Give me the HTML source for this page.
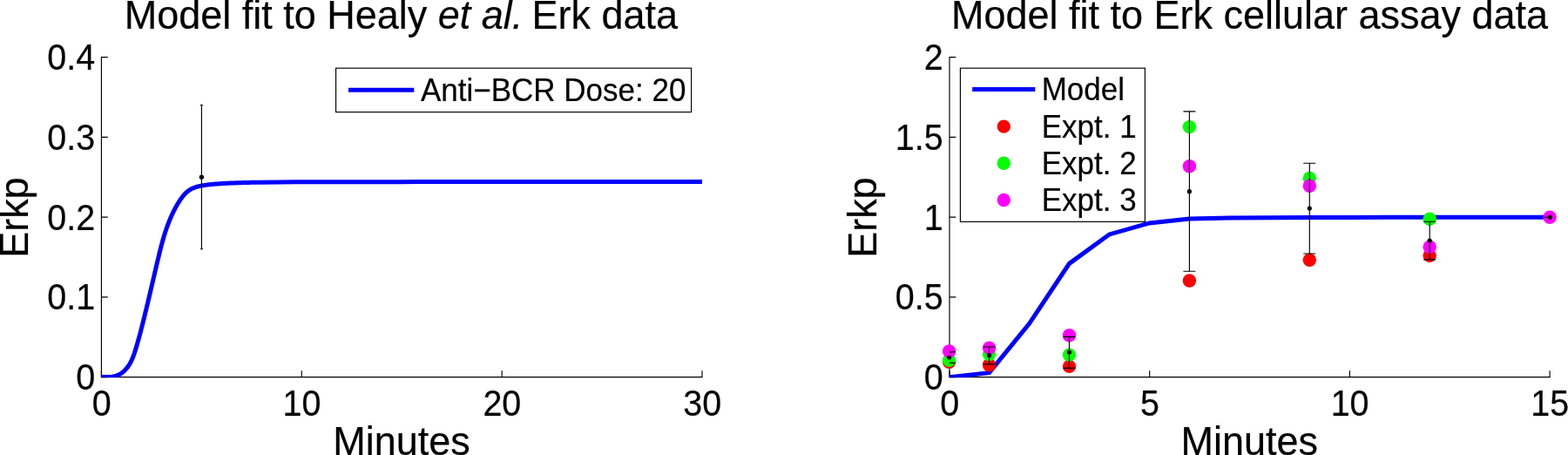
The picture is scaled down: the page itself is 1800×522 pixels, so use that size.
<!DOCTYPE html>
<html lang="en">
<head>
<meta charset="utf-8">
<title>Model fit to Erk data</title>
<style>
html,body{margin:0;padding:0;background:#fff;}
body{width:1800px;height:522px;overflow:hidden;}
svg{display:block;}
svg text{font-family:"Liberation Sans", sans-serif;fill:#000;stroke:#000;stroke-width:0.2px;stroke-linejoin:round;}
</style>
</head>
<body>
<svg width="1800" height="522" viewBox="0 0 1800 522">
<rect width="1800" height="522" fill="#fff"/>
<path d="M116.43 65.57V432.58H806" fill="none" stroke="#000" stroke-width="1.15" stroke-linecap="square"/>
<path d="M116.43 432.58v-7.3M346.29 432.58v-7.3M576.14 432.58v-7.3M806 432.58v-7.3M116.43 432.58h7.3M116.43 340.83h7.3M116.43 249.07h7.3M116.43 157.32h7.3M116.43 65.57h7.3" fill="none" stroke="#000" stroke-width="1.15"/>
<text transform="translate(116.63 477.18) scale(1 1.065)" font-size="39.5" text-anchor="middle">0</text>
<text transform="translate(346.49 477.18) scale(1 1.065)" font-size="39.5" text-anchor="middle">10</text>
<text transform="translate(576.34 477.18) scale(1 1.065)" font-size="39.5" text-anchor="middle">20</text>
<text transform="translate(806.2 477.18) scale(1 1.065)" font-size="39.5" text-anchor="middle">30</text>
<text transform="translate(109.13 447.08) scale(1 1.065)" font-size="39.5" text-anchor="end">0</text>
<text transform="translate(109.13 355.33) scale(1 1.065)" font-size="39.5" text-anchor="end">0.1</text>
<text transform="translate(109.13 263.57) scale(1 1.065)" font-size="39.5" text-anchor="end">0.2</text>
<text transform="translate(109.13 171.82) scale(1 1.065)" font-size="39.5" text-anchor="end">0.3</text>
<text transform="translate(109.13 80.07) scale(1 1.065)" font-size="39.5" text-anchor="end">0.4</text>
<clipPath id="cl"><rect x="116" y="65" width="691" height="368"/></clipPath>
<path d="M116.45 432.37L118.82 432.5L121.25 432.58L123.7 432.58L126.16 432.49L128.6 432.24L130.98 431.82L133.29 431.21L135.5 430.37L137.59 429.31L139.57 428.05L141.43 426.61L143.17 425.01L144.79 423.28L146.28 421.44L147.66 419.5L148.91 417.48L150.06 415.39L151.12 413.24L152.09 411.04L152.99 408.79L153.82 406.51L154.61 404.2L155.35 401.88L156.07 399.55L156.76 397.22L157.44 394.9L158.1 392.58L158.76 390.27L159.4 387.95L160.02 385.64L160.64 383.33L161.25 381.02L161.86 378.71L162.45 376.4L163.05 374.09L163.63 371.78L164.22 369.47L164.8 367.15L165.37 364.84L165.95 362.52L166.52 360.2L167.08 357.88L167.65 355.56L168.21 353.24L168.77 350.91L169.32 348.59L169.88 346.26L170.43 343.94L170.98 341.61L171.53 339.28L172.08 336.95L172.62 334.62L173.17 332.29L173.71 329.96L174.26 327.63L174.8 325.29L175.35 322.96L175.89 320.62L176.44 318.29L176.98 315.95L177.53 313.61L178.08 311.27L178.62 308.94L179.17 306.6L179.72 304.26L180.27 301.92L180.83 299.58L181.39 297.23L181.95 294.89L182.51 292.55L183.08 290.21L183.66 287.88L184.25 285.55L184.85 283.22L185.47 280.89L186.09 278.57L186.73 276.26L187.39 273.95L188.07 271.65L188.77 269.36L189.48 267.07L190.23 264.8L190.99 262.53L191.78 260.28L192.6 258.03L193.44 255.8L194.31 253.58L195.22 251.38L196.16 249.18L197.13 247L198.14 244.84L199.18 242.7L200.27 240.57L201.39 238.45L202.55 236.36L203.76 234.28L205.01 232.22L206.31 230.19L207.66 228.18L209.07 226.22L210.56 224.34L212.13 222.55L213.81 220.89L215.6 219.37L217.52 218.01L219.56 216.83L221.71 215.82L223.94 214.96L226.24 214.24L228.58 213.63L230.96 213.12L233.37 212.7L235.78 212.35L238.2 212.04L240.6 211.76L243 211.51L245.39 211.29L247.77 211.09L250.15 210.91L252.52 210.75L254.9 210.6L257.28 210.46L259.66 210.34L262.05 210.22L264.44 210.1L266.83 210L269.23 209.9L271.63 209.81L274.03 209.72L276.43 209.65L278.83 209.57L281.24 209.51L283.64 209.44L286.03 209.39L288.43 209.34L290.83 209.29L293.22 209.25L295.6 209.21L297.98 209.17L320 208.92L340 208.81L360 208.74L380 208.7L400 208.67L420 208.65L440 208.64L460 208.63L480 208.61L500 208.61L520 208.6L540 208.59L560 208.58L580 208.58L600 208.57L620 208.57L640 208.56L660 208.56L680 208.55L700 208.55L720 208.54L740 208.54L760 208.54L780 208.53L800 208.53L806 208.53" fill="none" stroke="#00f" stroke-width="5" stroke-linejoin="round" clip-path="url(#cl)"/>
<path d="M231.42 120.62V285.78M229.92 120.62h3M229.92 285.78h3" fill="none" stroke="#000" stroke-width="1.15"/>
<circle cx="231.42" cy="203.2" r="2.6" fill="#000"/>
<rect x="385.58" y="78.2" width="408" height="50.38" fill="#fff" stroke="#000" stroke-width="1.15"/>
<path d="M400 103.2H475.3" stroke="#00f" stroke-width="5" fill="none"/>
<text transform="translate(483 116.1) scale(1 1.035)" font-size="35">Anti−BCR Dose: 20</text>
<text transform="translate(460.4 32.8) scale(1 1.02)" font-size="45" text-anchor="middle">Model fit to Healy <tspan font-style="italic">et al.</tspan><tspan dx="-2.2"> Erk data</tspan></text>
<text transform="translate(461 521.7) scale(1 1.02)" font-size="45" text-anchor="middle">Minutes</text>
<text transform="translate(32.2 249.6) rotate(-90) scale(1 1.02)" font-size="45" text-anchor="middle">Erkp</text>
<path d="M1090 65.57V432.58H1779.1" fill="none" stroke="#000" stroke-width="1.15" stroke-linecap="square"/>
<path d="M1090 432.58v-7.3M1319.7 432.58v-7.3M1549.4 432.58v-7.3M1779.1 432.58v-7.3M1090 432.58h7.3M1090 340.83h7.3M1090 249.07h7.3M1090 157.32h7.3M1090 65.57h7.3" fill="none" stroke="#000" stroke-width="1.15"/>
<text transform="translate(1090.2 477.18) scale(1 1.065)" font-size="39.5" text-anchor="middle">0</text>
<text transform="translate(1319.9 477.18) scale(1 1.065)" font-size="39.5" text-anchor="middle">5</text>
<text transform="translate(1549.6 477.18) scale(1 1.065)" font-size="39.5" text-anchor="middle">10</text>
<text transform="translate(1779.3 477.18) scale(1 1.065)" font-size="39.5" text-anchor="middle">15</text>
<text transform="translate(1082.7 447.08) scale(1 1.065)" font-size="39.5" text-anchor="end">0</text>
<text transform="translate(1082.7 355.33) scale(1 1.065)" font-size="39.5" text-anchor="end">0.5</text>
<text transform="translate(1082.7 263.57) scale(1 1.065)" font-size="39.5" text-anchor="end">1</text>
<text transform="translate(1082.7 171.82) scale(1 1.065)" font-size="39.5" text-anchor="end">1.5</text>
<text transform="translate(1082.7 80.07) scale(1 1.065)" font-size="39.5" text-anchor="end">2</text>
<clipPath id="cr"><rect x="1090" y="65" width="690" height="368"/></clipPath>
<path d="M1089.6 432.83 L1135.57 427.69 L1181.53 371.36 L1227.5 302.36 L1273.47 268.96 L1319.43 255.93 L1365.4 251.07 L1411.37 249.97 L1457.33 249.69 L1503.3 249.51 L1549.27 249.42 L1595.23 249.32 L1641.2 249.32 L1687.17 249.32 L1733.13 249.32 L1779.1 249.32" fill="none" stroke="#00f" stroke-width="5" stroke-linejoin="miter" clip-path="url(#cr)"/>
<circle cx="1089.6" cy="415.3" r="7.7" fill="#f00"/>
<circle cx="1135.57" cy="418.8" r="7.7" fill="#f00"/>
<circle cx="1227.5" cy="420.4" r="7.7" fill="#f00"/>
<circle cx="1365.4" cy="322" r="7.7" fill="#f00"/>
<circle cx="1503.3" cy="298.3" r="7.7" fill="#f00"/>
<circle cx="1641.2" cy="293.3" r="7.7" fill="#f00"/>
<circle cx="1089.6" cy="413.3" r="7.7" fill="#0f0"/>
<circle cx="1135.57" cy="406.5" r="7.7" fill="#0f0"/>
<circle cx="1227.5" cy="407.1" r="7.7" fill="#0f0"/>
<circle cx="1365.4" cy="145.6" r="7.7" fill="#0f0"/>
<circle cx="1503.3" cy="204.5" r="7.7" fill="#0f0"/>
<circle cx="1641.2" cy="251.2" r="7.7" fill="#0f0"/>
<circle cx="1089.6" cy="403" r="7.7" fill="#f0f"/>
<circle cx="1135.57" cy="399.1" r="7.7" fill="#f0f"/>
<circle cx="1227.5" cy="384.7" r="7.7" fill="#f0f"/>
<circle cx="1365.4" cy="190.8" r="7.7" fill="#f0f"/>
<circle cx="1503.3" cy="213.3" r="7.7" fill="#f0f"/>
<circle cx="1641.2" cy="283.3" r="7.7" fill="#f0f"/>
<circle cx="1779.1" cy="249.2" r="7.7" fill="#f0f"/>
<path d="M1089.6 403.9V416.4M1082.6 403.9h14M1082.6 416.4h14M1135.57 398V417.8M1128.57 398h14M1128.57 417.8h14M1227.5 386.4V422.3M1220.5 386.4h14M1220.5 422.3h14M1365.4 127.9V311.2M1358.4 127.9h14M1358.4 311.2h14M1503.3 187.2V291M1496.3 187.2h14M1496.3 291h14M1641.2 254.2V297.9M1634.2 254.2h14M1634.2 297.9h14M1779.1 249.2V249.2M1772.1 249.2h14M1772.1 249.2h14" fill="none" stroke="#000" stroke-width="1.15" clip-path="url(#cr)"/>
<circle cx="1089.6" cy="410" r="2.6" fill="#000"/>
<circle cx="1135.57" cy="407.7" r="2.6" fill="#000"/>
<circle cx="1227.5" cy="404.1" r="2.6" fill="#000"/>
<circle cx="1365.4" cy="219.7" r="2.6" fill="#000"/>
<circle cx="1503.3" cy="239" r="2.6" fill="#000"/>
<circle cx="1641.2" cy="276" r="2.6" fill="#000"/>
<circle cx="1779.1" cy="249.2" r="2.6" fill="#000"/>
<rect x="1102.42" y="78.2" width="212" height="176.22" fill="#fff" stroke="#000" stroke-width="1.15"/>
<path d="M1116.2 102.5H1188.3" stroke="#00f" stroke-width="5" fill="none"/>
<text transform="translate(1195.7 115) scale(1 1.035)" font-size="35">Model</text>
<circle cx="1152.3" cy="145.1" r="7.7" fill="#f00"/>
<text transform="translate(1195.7 157.7) scale(1 1.035)" font-size="35">Expt. 1</text>
<circle cx="1152.3" cy="187.3" r="7.7" fill="#0f0"/>
<text transform="translate(1195.7 199.9) scale(1 1.035)" font-size="35">Expt. 2</text>
<circle cx="1152.3" cy="229.5" r="7.7" fill="#f0f"/>
<text transform="translate(1195.7 242.1) scale(1 1.035)" font-size="35">Expt. 3</text>
<text transform="translate(1434.6 32.8) scale(1 1.02)" font-size="45" text-anchor="middle">Model fit to Erk cellular assay data</text>
<text transform="translate(1434.3 521.7) scale(1 1.02)" font-size="45" text-anchor="middle">Minutes</text>
<text transform="translate(1005.5 249.6) rotate(-90) scale(1 1.02)" font-size="45" text-anchor="middle">Erkp</text>
</svg>
</body>
</html>
